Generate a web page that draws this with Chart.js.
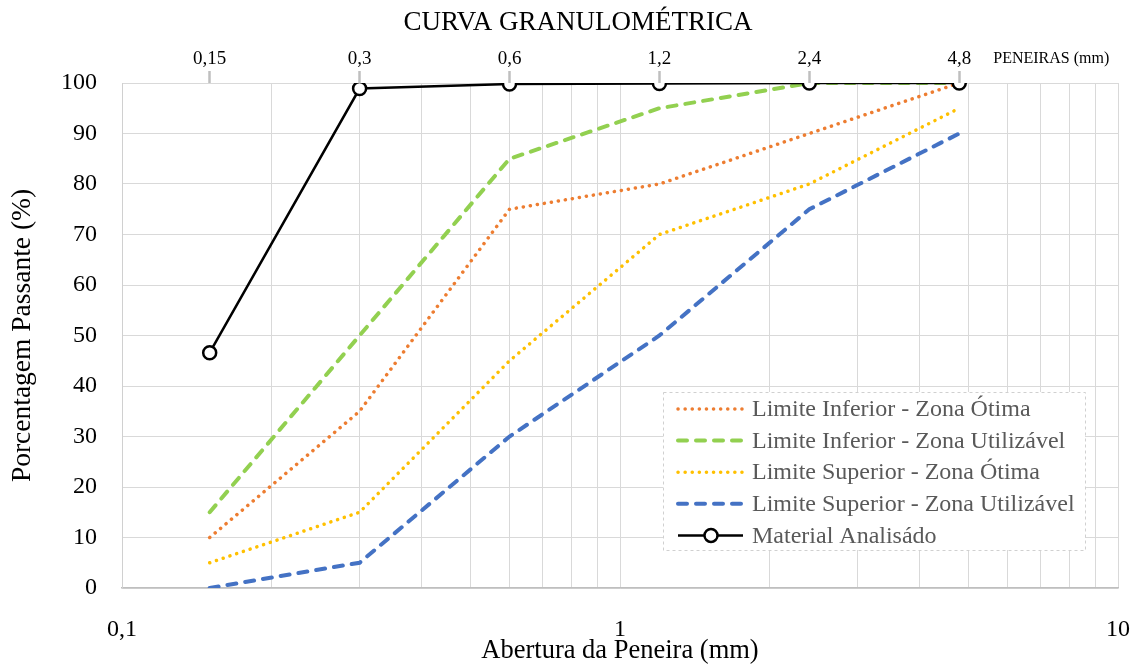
<!DOCTYPE html>
<html>
<head>
<meta charset="utf-8">
<script src="https://cdn.jsdelivr.net/npm/chart.js@4.4.0/dist/chart.umd.min.js"></script>
<style>
  html, body { margin: 0; padding: 0; background: #fff; }
  #wrap { width: 1138px; height: 664px; }
</style>
</head>
<body>
<div id="wrap"><canvas id="chart" width="1138" height="664"></canvas></div>
<script>
// sieve openings (mm) and passing percentages
const sieves = [0.15, 0.3, 0.6, 1.2, 2.4, 4.8];
const sieveLabels = ['0,15', '0,3', '0,6', '1,2', '2,4', '4,8'];
const infOtima = [10, 35, 75, 80, 90, 100];
const infUtil = [15, 50, 85, 95, 100, 100];
const supOtima = [5, 15, 45, 70, 80, 95];
const supUtil = [0, 5, 30, 50, 75, 90];
const material = [46.6, 98.9, 99.8, 99.9, 100, 100];

const gridValues = [0.1, 0.2, 0.3, 0.4, 0.5, 0.6, 0.7, 0.8, 0.9, 1, 2, 3, 4, 5, 6, 7, 8, 9, 10];
const decadeLabels = { 0.1: '0,1', 1: '1', 10: '10' };

const serif = 'Liberation Serif';
const toPts = arr => sieves.map((s, i) => ({ x: s, y: arr[i] }));

const legendItems = [
  { text: 'Limite Inferior - Zona Ótima', color: '#ED7D31', dash: [0.1, 7], width: 3.5 },
  { text: 'Limite Inferior - Zona Utilizável', color: '#92D050', dash: [9, 9], width: 4 },
  { text: 'Limite Superior - Zona Ótima', color: '#FFC000', dash: [0.1, 7], width: 3.5 },
  { text: 'Limite Superior - Zona Utilizável', color: '#4472C4', dash: [9, 9], width: 4 },
  { text: 'Material Analisádo', color: '#000000', dash: [], width: 2.5, marker: true }
];

const overlay = {
  id: 'overlay',
  afterDraw(chart) {
    const { ctx } = chart;
    const x2 = chart.scales.x2;
    ctx.save();
    // chart title
    ctx.font = `27px "${serif}"`;
    ctx.fillStyle = '#000';
    ctx.textAlign = 'center';
    ctx.textBaseline = 'middle';
    ctx.fillText('CURVA GRANULOMÉTRICA', 578, 23);

    // top axis caption
    ctx.font = `16px "${serif}"`;
    ctx.textAlign = 'left';
    ctx.fillText('PENEIRAS (mm)', x2.getPixelForValue(4.8) + 34, 59);

    // legend
    const bx = 663, by = 392, bw = 422, bh = 158;
    ctx.fillStyle = '#fff';
    ctx.fillRect(bx, by, bw, bh);
    ctx.strokeStyle = '#d0d0d0';
    ctx.lineWidth = 1;
    ctx.setLineDash([3, 3]);
    ctx.strokeRect(bx + 0.5, by + 0.5, bw, bh);
    legendItems.forEach((it, i) => {
      const y = 409 + i * 31.6;
      ctx.beginPath();
      ctx.setLineDash(it.dash);
      ctx.lineCap = it.marker ? 'butt' : 'round';
      ctx.strokeStyle = it.color;
      ctx.lineWidth = it.width;
      ctx.moveTo(678, y);
      ctx.lineTo(743, y);
      ctx.stroke();
      if (it.marker) {
        ctx.setLineDash([]);
        ctx.beginPath();
        ctx.arc(711, y, 6.5, 0, Math.PI * 2);
        ctx.fillStyle = '#fff';
        ctx.fill();
        ctx.stroke();
      }
      ctx.setLineDash([]);
      ctx.fillStyle = '#595959';
      ctx.font = `24px "${serif}"`;
      ctx.textAlign = 'left';
      ctx.textBaseline = 'middle';
      ctx.fillText(it.text, 752, y + 1);
    });
    ctx.restore();
  }
};

const limitLine = (label, data, color, dash, width) => ({
  label,
  data: toPts(data),
  borderColor: color,
  backgroundColor: color,
  borderWidth: width,
  borderDash: dash,
  borderCapStyle: 'round',
  pointRadius: 0,
  tension: 0,
  fill: false
});

new Chart(document.getElementById('chart').getContext('2d'), {
  type: 'line',
  data: {
    datasets: [
      limitLine('Limite Inferior - Zona Ótima', infOtima, '#ED7D31', [0.1, 7], 3.5),
      limitLine('Limite Inferior - Zona Utilizável', infUtil, '#92D050', [9, 9], 4),
      limitLine('Limite Superior - Zona Ótima', supOtima, '#FFC000', [0.1, 7], 3.5),
      limitLine('Limite Superior - Zona Utilizável', supUtil, '#4472C4', [9, 9], 4),
      {
        label: 'Material Analisádo',
        data: toPts(material),
        borderColor: '#000',
        backgroundColor: '#fff',
        borderWidth: 2.5,
        pointRadius: 6.5,
        pointBorderWidth: 2.5,
        pointBackgroundColor: '#fff',
        pointBorderColor: '#000',
        tension: 0,
        order: -1
      }
    ]
  },
  options: {
    responsive: false,
    animation: false,
    layout: { padding: { left: 0, right: 20, top: 0, bottom: 0 } },
    scales: {
      x: {
        type: 'logarithmic',
        position: 'bottom',
        min: 0.1,
        max: 10,
        afterBuildTicks: s => { s.ticks = gridValues.map(v => ({ value: v })); },
        afterFit: s => { s.height = 76; s.paddingLeft = 0; s.paddingRight = 0; },
        grid: { color: '#d9d9d9', lineWidth: 1, drawTicks: false },
        border: { display: true, color: '#bfbfbf', width: 1.5 },
        ticks: {
          autoSkip: false,
          maxRotation: 0,
          padding: 27,
          color: '#000',
          font: { family: serif, size: 24 },
          callback: v => decadeLabels[v] || ''
        },
        title: {
          display: true,
          text: 'Abertura da Peneira (mm)',
          color: '#000',
          font: { family: serif, size: 26.5, lineHeight: 1.0 },
          padding: { top: 0, bottom: 0 }
        }
      },
      x2: {
        type: 'logarithmic',
        position: 'top',
        min: 0.1,
        max: 10,
        afterBuildTicks: s => { s.ticks = sieves.map(v => ({ value: v })); },
        afterFit: s => { s.height = 83; s.paddingLeft = 0; s.paddingRight = 0; },
        grid: {
          drawOnChartArea: false,
          drawTicks: true,
          tickLength: 12,
          tickWidth: 2.5,
          tickColor: '#bfbfbf'
        },
        border: { display: true, color: '#d9d9d9', width: 1 },
        ticks: {
          autoSkip: false,
          maxRotation: 0,
          padding: 1,
          color: '#000',
          font: { family: serif, size: 19 },
          callback: v => sieveLabels[sieves.indexOf(v)]
        }
      },
      y: {
        min: 0,
        max: 100,
        afterFit: s => { s.width = 122; },
        grid: { color: '#d9d9d9', lineWidth: 1, drawTicks: false },
        border: { display: true, color: '#d0d0d0', width: 1 },
        ticks: {
          stepSize: 10,
          padding: 25,
          color: '#000',
          font: { family: serif, size: 24 }
        },
        title: {
          display: true,
          text: 'Porcentagem Passante (%)',
          color: '#000',
          font: { family: serif, size: 27.5 },
          padding: { top: 6, bottom: 0 }
        }
      }
    },
    plugins: {
      legend: { display: false },
      tooltip: { enabled: false },
      title: { display: false }
    }
  },
  plugins: [overlay]
});
</script>
</body>
</html>
